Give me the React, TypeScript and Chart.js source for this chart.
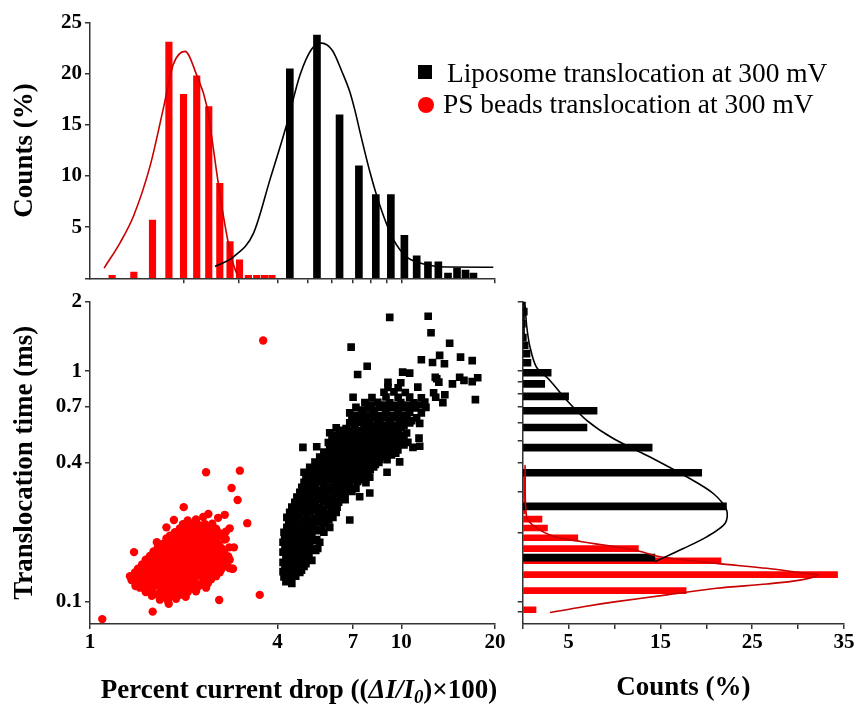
import React, { useEffect, useRef } from 'react';
import { Chart, registerables } from 'chart.js';

Chart.register(...registerables);

const FONT = "'Liberation Serif', 'Times New Roman', serif";
const AXIS = '#333333';
const RED = '#ff0000';
const RED_FIT = '#c80000';

// ---------- top histogram (percent current drop) ----------
const topBinsPS = [1.15, 1.35, 1.55, 1.75, 1.95, 2.15, 2.35, 2.55, 2.75, 2.95, 3.15, 3.35, 3.55, 3.75];
const topCountsPS = [0.3, 0.6, 5.7, 23.1, 18.0, 19.8, 16.8, 9.3, 3.6, 1.8, 0.3, 0.3, 0.3, 0.3];
const topBinsLipo = [4.5, 5.5, 6.5, 7.5, 8.5, 9.5, 10.5, 11.5, 12.5, 13.5, 14.5, 15.5, 16.5, 17.5];
const topCountsLipo = [20.5, 23.8, 16.0, 11.0, 8.2, 8.2, 4.2, 2.2, 1.6, 1.6, 0.5, 1.0, 0.8, 0.5];
const topFitPS = [[1.11, 1.0], [1.25, 3.5], [1.38, 6.1], [1.56, 11.0], [1.72, 16.6], [1.85, 20.9], [2.02, 22.2], [2.2, 19.9], [2.37, 16.9], [2.58, 9.4], [2.7, 5.6], [2.82, 2.6], [2.93, 0.8], [3.0, 0.2]];
const topFitLipo = [[2.52, 1.15], [2.89, 2.1], [3.35, 4.4], [3.79, 9.7], [4.28, 15.0], [4.73, 19.9], [5.15, 22.4], [5.55, 23.0], [6.0, 22.3], [6.45, 20.2], [6.84, 18.2], [7.1, 16.4], [7.37, 14.3], [7.93, 10.4], [8.54, 7.1], [9.43, 3.8], [10.4, 2.1], [11.5, 1.5], [12.7, 1.2], [14.0, 1.1], [19.75, 1.08]];
const topXTicks = [2, 3, 4, 5, 6, 7, 8, 9, 10, 20];

// ---------- side histogram (translocation time) ----------
const sideBinsLipo = [0.15, 0.25, 0.35, 0.45, 0.55, 0.65, 0.75, 0.85, 0.95, 1.05, 1.15, 1.25, 1.35, 1.45, 1.55, 1.65, 1.75, 1.85, 1.95];
const sideCountsLipo = [14.4, 22.2, 19.5, 14.1, 7.0, 8.1, 5.0, 2.4, 3.1, 0.9, 0.8, 0.6, 0.4, 0.2, 0.3, 0.2, 0.5, 0.2, 0.3];
const sideBinsPS = [0.095, 0.115, 0.135, 0.155, 0.175, 0.195, 0.215, 0.235, 0.255, 0.275, 0.295, 0.315, 0.335, 0.355, 0.375];
const sideCountsPS = [1.45, 17.8, 34.3, 21.6, 12.6, 6.0, 2.7, 2.1, 0.3, 0.3, 0.3, 0.3, 0.3, 0.3, 0.6];
const sideFitLipo = [[0.25, 1.95], [0.45, 1.55], [0.8, 1.27], [1.5, 1.04], [2.97, 0.911], [4.8, 0.747], [6.97, 0.612], [9.87, 0.51], [13.87, 0.424], [17.86, 0.348], [20.76, 0.2945], [22.22, 0.249], [22.04, 0.2185], [20.04, 0.191], [17.5, 0.17], [14.4, 0.149]];
const sideFitPS = [[0.25, 0.391], [0.43, 0.233], [1.34, 0.211], [3.52, 0.191], [6.43, 0.182], [12.2, 0.1675], [14.96, 0.1566], [21.1, 0.1466], [26.6, 0.1395], [30.2, 0.1335], [32.2, 0.1305], [30.2, 0.124], [26.6, 0.1193], [21.1, 0.1143], [15.7, 0.107], [10.2, 0.1], [6.6, 0.0951], [2.97, 0.0897]];
const sideXLabels = [5, 15, 25, 35];
const sideYTicks = [0.09, 0.1, 0.2, 0.3, 0.4, 0.5, 0.6, 0.7, 0.8, 0.9, 1, 2];

// ---------- scatter ----------
const scatterXTicks = [1, 4, 7, 10, 20];
const scatterYTicks = [0.1, 0.4, 0.7, 1, 2];

const liposomePoints = [
  [4.26, 0.122], [4.45, 0.120],
  [4.20, 0.128], [4.38, 0.126], [4.58, 0.129],
  [4.17, 0.135], [4.35, 0.133], [4.52, 0.136], [4.72, 0.134],
  [4.30, 0.138], [4.50, 0.139], [4.78, 0.137],
  [4.23, 0.141], [4.42, 0.143], [4.62, 0.140], [4.87, 0.142],
  [4.17, 0.148], [4.32, 0.150], [4.48, 0.147], [4.68, 0.149], [4.94, 0.146], [5.16, 0.151],
  [4.36, 0.152], [4.55, 0.153], [4.85, 0.152], [5.00, 0.154],
  [4.26, 0.156], [4.42, 0.154], [4.58, 0.158], [4.79, 0.155], [5.05, 0.157],
  [4.17, 0.164], [4.35, 0.166], [4.52, 0.163], [4.72, 0.165], [4.94, 0.162], [5.31, 0.167],
  [4.28, 0.168], [4.47, 0.169], [4.67, 0.168], [4.88, 0.167], [5.20, 0.169],
  [4.23, 0.172], [4.42, 0.170], [4.62, 0.174], [4.83, 0.171], [5.08, 0.173], [5.39, 0.170],
  [4.17, 0.181], [4.32, 0.183], [4.52, 0.180], [4.72, 0.182], [4.98, 0.179], [5.24, 0.184], [5.47, 0.181],
  [4.22, 0.186], [4.40, 0.187], [4.60, 0.186], [4.85, 0.185], [5.10, 0.187], [5.35, 0.186],
  [4.26, 0.191], [4.45, 0.189], [4.65, 0.193], [4.91, 0.190], [5.16, 0.192],
  [4.20, 0.200], [4.38, 0.202], [4.58, 0.198], [4.83, 0.201], [5.08, 0.199], [5.39, 0.203], [5.64, 0.200],
  [4.30, 0.205], [4.48, 0.206], [4.70, 0.204], [4.95, 0.205], [5.25, 0.206], [5.50, 0.204],
  [4.29, 0.210], [4.52, 0.212], [4.72, 0.208], [4.98, 0.211], [5.24, 0.209], [5.56, 0.213], [5.89, 0.210],
  [4.35, 0.221], [4.58, 0.219], [4.83, 0.223], [5.08, 0.220], [5.39, 0.222], [5.72, 0.218], [6.83, 0.226],
  [4.45, 0.226], [4.70, 0.227], [4.95, 0.226], [5.22, 0.225], [5.50, 0.227], [5.85, 0.226],
  [4.29, 0.232], [4.48, 0.234], [4.72, 0.231], [4.98, 0.233], [5.28, 0.230], [5.60, 0.235], [6.03, 0.232],
  [4.38, 0.244], [4.62, 0.242], [4.87, 0.246], [5.12, 0.243], [5.43, 0.245], [5.78, 0.241], [6.18, 0.244],
  [4.52, 0.250], [4.76, 0.251], [5.00, 0.249], [5.30, 0.250], [5.62, 0.251], [5.98, 0.249],
  [4.45, 0.257], [4.68, 0.259], [4.94, 0.255], [5.20, 0.258], [5.47, 0.256], [5.83, 0.260], [6.22, 0.257],
  [4.55, 0.270], [4.79, 0.268], [5.05, 0.272], [5.31, 0.269], [5.64, 0.271], [5.94, 0.267], [6.29, 0.270],
  [4.70, 0.277], [4.95, 0.278], [5.22, 0.276], [5.50, 0.277], [5.82, 0.278], [6.15, 0.276], [6.60, 0.277],
  [4.62, 0.284], [4.87, 0.286], [5.12, 0.282], [5.39, 0.285], [5.72, 0.283], [6.08, 0.287], [6.45, 0.284], [7.35, 0.285],
  [4.72, 0.298], [4.98, 0.296], [5.24, 0.300], [5.52, 0.297], [5.83, 0.299], [6.22, 0.295], [6.60, 0.298], [6.94, 0.301], [7.92, 0.296],
  [4.85, 0.305], [5.12, 0.306], [5.42, 0.304], [5.75, 0.305], [6.10, 0.306], [6.48, 0.304], [6.90, 0.305],
  [4.79, 0.313], [5.05, 0.315], [5.31, 0.311], [5.64, 0.314], [5.99, 0.312], [6.34, 0.316], [6.75, 0.313], [7.15, 0.310],
  [4.87, 0.329], [5.12, 0.327], [5.39, 0.331], [5.72, 0.328], [6.08, 0.330], [6.45, 0.326], [6.83, 0.329], [7.24, 0.332], [7.70, 0.328],
  [5.00, 0.337], [5.28, 0.338], [5.60, 0.336], [5.95, 0.337], [6.30, 0.338], [6.70, 0.336], [7.10, 0.337], [7.55, 0.338],
  [4.94, 0.346], [5.20, 0.348], [5.47, 0.344], [5.83, 0.347], [6.18, 0.345], [6.55, 0.349], [6.94, 0.346], [7.41, 0.343], [7.92, 0.347],
  [5.05, 0.355], [5.32, 0.356], [5.65, 0.354], [6.00, 0.355], [6.36, 0.356], [6.75, 0.354], [7.15, 0.355], [7.60, 0.356],
  [4.87, 0.364], [5.16, 0.362], [5.47, 0.366], [5.83, 0.363], [6.18, 0.365], [6.55, 0.361], [6.94, 0.364], [7.35, 0.367], [7.80, 0.363], [9.00, 0.364],
  [5.25, 0.374], [5.58, 0.375], [5.95, 0.373], [6.30, 0.374], [6.66, 0.375], [7.05, 0.373], [7.50, 0.374], [7.95, 0.375],
  [5.08, 0.383], [5.39, 0.385], [5.72, 0.381], [6.08, 0.384], [6.45, 0.382], [6.83, 0.386], [7.24, 0.383], [7.70, 0.380], [8.15, 0.384],
  [5.45, 0.393], [5.80, 0.394], [6.15, 0.392], [6.50, 0.393], [6.90, 0.394], [7.30, 0.392], [7.75, 0.393], [8.25, 0.394],
  [5.28, 0.403], [5.60, 0.401], [5.94, 0.405], [6.29, 0.402], [6.70, 0.404], [7.10, 0.400], [7.53, 0.403], [7.98, 0.406], [8.47, 0.402], [9.88, 0.404],
  [5.60, 0.414], [5.95, 0.415], [6.35, 0.413], [6.72, 0.414], [7.12, 0.415], [7.55, 0.413], [8.00, 0.414], [8.50, 0.415], [9.00, 0.413],
  [5.47, 0.424], [5.83, 0.426], [6.18, 0.422], [6.55, 0.425], [6.94, 0.423], [7.35, 0.427], [7.80, 0.424], [8.28, 0.421], [8.80, 0.425],
  [5.80, 0.434], [6.15, 0.435], [6.55, 0.433], [6.95, 0.434], [7.35, 0.435], [7.80, 0.433], [8.30, 0.434], [8.80, 0.435], [9.30, 0.433],
  [5.64, 0.445], [5.99, 0.443], [6.34, 0.447], [6.75, 0.444], [7.15, 0.446], [7.59, 0.442], [8.05, 0.445], [8.53, 0.448], [9.06, 0.444], [9.60, 0.441],
  [6.00, 0.456], [6.45, 0.457], [6.85, 0.455], [7.25, 0.456], [7.70, 0.457], [8.15, 0.455], [8.65, 0.456], [9.20, 0.457], [9.75, 0.455],
  [4.83, 0.467], [5.35, 0.470], [5.89, 0.466], [6.24, 0.469], [6.65, 0.465], [7.05, 0.468], [7.47, 0.471], [7.92, 0.466], [8.40, 0.469], [8.93, 0.464], [9.47, 0.468], [10.9, 0.467], [11.46, 0.472],
  [6.00, 0.478], [6.38, 0.479], [6.75, 0.477], [7.15, 0.478], [7.60, 0.479], [8.05, 0.477], [8.55, 0.478], [9.05, 0.479], [9.60, 0.477], [10.2, 0.478],
  [5.83, 0.490], [6.18, 0.493], [6.55, 0.488], [6.94, 0.491], [7.35, 0.489], [7.80, 0.494], [8.28, 0.490], [8.80, 0.487], [9.33, 0.492], [9.88, 0.489], [10.5, 0.491],
  [6.15, 0.502], [6.55, 0.503], [6.98, 0.501], [7.40, 0.502], [7.85, 0.503], [8.35, 0.501], [8.85, 0.502], [9.40, 0.503], [9.95, 0.501],
  [5.99, 0.515], [6.34, 0.512], [6.75, 0.517], [7.15, 0.514], [7.59, 0.516], [8.05, 0.511], [8.53, 0.515], [9.06, 0.518], [9.60, 0.513], [10.2, 0.516], [11.4, 0.512],
  [6.10, 0.527], [6.55, 0.528], [7.00, 0.526], [7.45, 0.527], [7.92, 0.528], [8.40, 0.526], [8.92, 0.527], [9.45, 0.528], [10.1, 0.526],
  [5.89, 0.540], [6.34, 0.543], [6.83, 0.538], [7.24, 0.541], [7.70, 0.539], [8.15, 0.544], [8.66, 0.540], [9.18, 0.537], [9.77, 0.542], [10.4, 0.539],
  [6.45, 0.553], [6.90, 0.554], [7.35, 0.552], [7.85, 0.553], [8.40, 0.554], [8.95, 0.552], [9.60, 0.553],
  [6.18, 0.567], [6.65, 0.564], [7.10, 0.569], [7.59, 0.566], [8.11, 0.568], [8.66, 0.563], [9.26, 0.567], [9.96, 0.570],
  [7.10, 0.581], [7.65, 0.582], [8.25, 0.580], [8.85, 0.581], [9.50, 0.582], [10.2, 0.580],
  [6.83, 0.596], [7.35, 0.599], [7.92, 0.594], [8.53, 0.597], [9.18, 0.595], [9.88, 0.600], [10.64, 0.596], [11.46, 0.593],
  [7.20, 0.611], [7.75, 0.612], [8.40, 0.610], [9.20, 0.611], [10.0, 0.612], [10.8, 0.610],
  [6.94, 0.627], [7.47, 0.624], [8.05, 0.629], [8.80, 0.626], [9.60, 0.628], [10.43, 0.623], [11.2, 0.627],
  [7.20, 0.643], [7.80, 0.644], [8.55, 0.642], [9.35, 0.643], [10.2, 0.644],
  [6.83, 0.659], [7.47, 0.662], [8.15, 0.657], [8.93, 0.660], [9.77, 0.658], [10.64, 0.663], [11.6, 0.659],
  [7.50, 0.677], [8.20, 0.678], [8.90, 0.676], [9.75, 0.677], [10.6, 0.678],
  [7.15, 0.696], [7.80, 0.693], [8.53, 0.698], [9.33, 0.695], [10.2, 0.697], [11.1, 0.692], [12.0, 0.696],
  [8.00, 0.712], [8.80, 0.713], [9.60, 0.711], [10.5, 0.712], [11.5, 0.713],
  [7.64, 0.730], [8.40, 0.733], [9.18, 0.728], [9.96, 0.731], [10.97, 0.729], [11.9, 0.734], [13.6, 0.730],
  [7.00, 0.770], [8.05, 0.767], [8.93, 0.772], [9.77, 0.769], [10.64, 0.771], [11.6, 0.766], [12.9, 0.770], [17.3, 0.752],
  [8.80, 0.810], [9.47, 0.813], [10.3, 0.808], [12.7, 0.806], [13.8, 0.790],
  [9.06, 0.850], [9.77, 0.847], [11.3, 0.852],
  [9.06, 0.894], [9.96, 0.890], [13.0, 0.927], [14.6, 0.880], [16.9, 0.900],
  [10.1, 0.990], [10.64, 0.980], [12.86, 0.940], [15.4, 0.940], [15.9, 0.911], [17.6, 0.936],
  [7.24, 0.967], [13.2, 0.896],
  [12.6, 1.09], [13.76, 1.076], [16.9, 1.11],
  [11.6, 1.12], [15.5, 1.15], [13.28, 1.17],
  [7.77, 1.05], [6.9, 1.27], [14.3, 1.32], [12.46, 1.466], [9.18, 1.71], [12.2, 1.73],
];

const psBeadPoints = [
  [1.677, 0.102], [1.78, 0.101], [1.89, 0.103],
  [1.58, 0.106], [1.65, 0.107], [1.74, 0.105], [1.83, 0.106], [1.945, 0.107], [2.03, 0.105],
  [1.51, 0.110], [1.58, 0.111], [1.67, 0.109], [1.76, 0.110], [1.85, 0.111], [1.945, 0.109], [2.06, 0.110], [2.19, 0.111],
  [1.447, 0.115], [1.52, 0.114], [1.60, 0.116], [1.69, 0.115], [1.78, 0.114], [1.875, 0.116], [1.98, 0.115], [2.094, 0.114], [2.22, 0.116], [2.36, 0.115],
  [1.405, 0.119], [1.48, 0.120], [1.558, 0.118], [1.64, 0.119], [1.73, 0.120], [1.82, 0.118], [1.92, 0.119], [2.02, 0.121], [2.125, 0.119], [2.254, 0.118], [2.39, 0.120],
  [1.364, 0.124], [1.436, 0.123], [1.51, 0.125], [1.59, 0.124], [1.677, 0.123], [1.77, 0.125], [1.86, 0.124], [1.96, 0.123], [2.06, 0.125], [2.17, 0.124], [2.31, 0.123], [2.45, 0.125],
  [1.344, 0.129], [1.415, 0.130], [1.49, 0.128], [1.57, 0.129], [1.65, 0.130], [1.74, 0.128], [1.83, 0.129], [1.93, 0.130], [2.03, 0.128], [2.14, 0.129], [2.254, 0.130], [2.39, 0.128], [2.54, 0.129],
  [1.395, 0.134], [1.47, 0.135], [1.55, 0.133], [1.63, 0.134], [1.715, 0.135], [1.806, 0.133], [1.90, 0.134], [2.00, 0.135], [2.11, 0.133], [2.22, 0.134], [2.34, 0.135], [2.47, 0.133], [2.613, 0.134],
  [1.426, 0.139], [1.50, 0.140], [1.58, 0.138], [1.67, 0.139], [1.76, 0.140], [1.85, 0.138], [1.945, 0.139], [2.05, 0.140], [2.16, 0.138], [2.27, 0.139], [2.39, 0.140], [2.52, 0.138], [2.65, 0.139], [2.80, 0.140],
  [1.47, 0.145], [1.55, 0.146], [1.63, 0.144], [1.715, 0.145], [1.806, 0.146], [1.90, 0.144], [2.00, 0.145], [2.11, 0.146], [2.22, 0.144], [2.34, 0.145], [2.47, 0.146], [2.59, 0.144], [2.73, 0.145], [2.88, 0.139],
  [1.51, 0.152], [1.59, 0.151], [1.677, 0.153], [1.77, 0.152], [1.86, 0.151], [1.96, 0.153], [2.06, 0.152], [2.17, 0.151], [2.29, 0.153], [2.41, 0.152], [2.54, 0.151], [2.68, 0.153], [2.81, 0.152],
  [1.558, 0.158], [1.64, 0.159], [1.73, 0.157], [1.82, 0.158], [1.92, 0.159], [2.02, 0.157], [2.125, 0.158], [2.24, 0.159], [2.36, 0.157], [2.49, 0.158], [2.613, 0.159], [2.78, 0.157],
  [1.385, 0.164], [1.60, 0.165], [1.69, 0.163], [1.78, 0.164], [1.875, 0.165], [1.98, 0.163], [2.08, 0.164], [2.19, 0.165], [2.31, 0.163], [2.43, 0.164], [2.56, 0.165], [2.70, 0.163], [2.90, 0.172],
  [1.65, 0.171], [1.74, 0.172], [1.83, 0.170], [1.93, 0.171], [2.03, 0.172], [2.14, 0.170], [2.254, 0.171], [2.38, 0.172], [2.50, 0.170], [2.64, 0.171], [2.80, 0.172],
  [1.64, 0.181], [1.715, 0.178], [1.806, 0.179], [1.90, 0.177], [2.00, 0.178], [2.11, 0.179], [2.22, 0.177], [2.34, 0.178], [2.47, 0.179], [2.59, 0.177], [2.73, 0.187],
  [1.76, 0.188], [1.86, 0.185], [1.96, 0.186], [2.06, 0.184], [2.17, 0.185], [2.29, 0.186], [2.41, 0.184], [2.54, 0.185], [2.70, 0.186],
  [1.806, 0.193], [1.92, 0.194], [2.02, 0.192], [2.125, 0.193], [2.24, 0.194], [2.36, 0.192], [2.49, 0.193], [2.613, 0.194],
  [1.875, 0.200], [1.99, 0.201], [2.094, 0.199], [2.20, 0.200], [2.32, 0.201], [2.45, 0.199], [2.58, 0.200], [2.73, 0.201],
  [1.76, 0.210], [1.945, 0.208], [2.05, 0.209], [2.16, 0.207], [2.27, 0.208], [2.39, 0.209], [2.54, 0.207], [2.81, 0.208],
  [1.99, 0.217], [2.094, 0.218], [2.22, 0.216], [2.34, 0.217], [2.47, 0.218],
  [1.86, 0.226], [2.06, 0.225], [2.19, 0.227], [3.20, 0.219],
  [2.31, 0.233], [2.40, 0.240], [2.58, 0.231], [2.71, 0.238],
  [2.00, 0.257], [2.36, 0.364], [3.03, 0.370], [2.85, 0.311], [2.98, 0.276],
  [1.40, 0.117], [1.36, 0.124], [1.79, 0.098], [1.59, 0.0905], [2.60, 0.1016], [3.51, 0.107], [1.095, 0.084],
  [2.86, 0.139], [3.60, 1.358],
];

const axisFont = { family: FONT, size: 21, weight: 'bold' as const };
const titleFont = { family: FONT, size: 27, weight: 'bold' as const };
const baseGrid = { drawOnChartArea: false, drawTicks: true, tickLength: 5, color: AXIS, lineWidth: 1.5, offset: false };
const baseBorder = { display: true, color: AXIS, width: 1.5 };
const common = {
  responsive: false,
  maintainAspectRatio: false,
  animation: false as const,
  devicePixelRatio: 1,
  events: [] as any[],
  plugins: { legend: { display: false }, tooltip: { enabled: false }, title: { display: false } },
};

const toXY = (pts: number[][]) => pts.map(([x, y]) => ({ x, y }));

function topConfig(): any {
  return {
    type: 'bar',
    data: {
      datasets: [
        { type: 'line', data: toXY(topFitLipo), borderColor: '#000', borderWidth: 1.6, pointRadius: 0, cubicInterpolationMode: 'monotone', fill: false, order: 0, xAxisID: 'x', yAxisID: 'y' },
        { type: 'line', data: toXY(topFitPS), borderColor: RED_FIT, borderWidth: 1.6, pointRadius: 0, cubicInterpolationMode: 'monotone', fill: false, order: 0, xAxisID: 'x', yAxisID: 'y' },
        { type: 'bar', data: topBinsLipo.map((x, i) => ({ x, y: topCountsLipo[i] })), backgroundColor: '#000', barThickness: 7, order: 1, xAxisID: 'x', yAxisID: 'y' },
        { type: 'bar', data: topBinsPS.map((x, i) => ({ x, y: topCountsPS[i] })), backgroundColor: RED, barThickness: 6.5, order: 2, xAxisID: 'x2', yAxisID: 'y' },
      ],
    },
    options: {
      ...common,
      layout: { padding: { left: 0, top: 22.7, right: 362, bottom: 415.7 } },
      scales: {
        x: {
          type: 'logarithmic', min: 1, max: 20, offset: false, position: 'bottom',
          grid: baseGrid, border: baseBorder,
          ticks: { display: false },
          afterBuildTicks: (ax: any) => { ax.ticks = topXTicks.map((v) => ({ value: v })); },
          afterFit: (ax: any) => { ax.height = 10; },
        },
        x2: { type: 'logarithmic', min: 1, max: 20, offset: false, position: 'bottom', display: false, grid: { offset: false } },
        y: {
          type: 'linear', min: 0, max: 25, position: 'left',
          grid: baseGrid, border: baseBorder,
          ticks: { stepSize: 5, autoSkip: false, color: '#000', font: axisFont, padding: 3, callback: (v: number) => (v === 0 ? '' : String(v)) },
          title: { display: true, text: 'Counts (%)', color: '#000', font: titleFont, padding: { top: 9, bottom: 0 } },
          afterFit: (ax: any) => { ax.width = 90; },
        },
      },
    },
  };
}

function scatterConfig(): any {
  return {
    type: 'scatter',
    data: {
      datasets: [
        { label: 'Liposome translocation at 300 mV', data: toXY(liposomePoints), pointStyle: 'rect', pointRadius: 5.4, backgroundColor: '#000', borderWidth: 0 },
        { label: 'PS beads translocation at 300 mV', data: toXY(psBeadPoints), pointStyle: 'circle', pointRadius: 4.2, backgroundColor: RED, borderWidth: 0 },
      ],
    },
    options: {
      ...common,
      layout: { padding: { left: 0, top: 301.7, right: 362, bottom: 0 } },
      scales: {
        x: {
          type: 'logarithmic', min: 1, max: 20, position: 'bottom',
          grid: baseGrid, border: baseBorder,
          ticks: { autoSkip: false, maxRotation: 0, color: '#000', font: axisFont, padding: 1, callback: (v: number) => String(v) },
          afterBuildTicks: (ax: any) => { ax.ticks = scatterXTicks.map((v) => ({ value: v })); },
          afterFit: (ax: any) => { ax.height = 80; },
        },
        y: {
          type: 'logarithmic', min: 0.08, max: 2, position: 'left',
          grid: baseGrid, border: baseBorder,
          ticks: { autoSkip: false, color: '#000', font: axisFont, padding: 3, callback: (v: number) => String(v) },
          afterBuildTicks: (ax: any) => { ax.ticks = scatterYTicks.map((v) => ({ value: v })); },
          title: { display: true, text: 'Translocation time (ms)', color: '#000', font: titleFont, padding: { top: 9, bottom: 0 } },
          afterFit: (ax: any) => { ax.width = 90; },
        },
      },
    },
  };
}

function sideConfig(): any {
  return {
    type: 'bar',
    data: {
      datasets: [
        { type: 'line', data: toXY(sideFitLipo), borderColor: '#000', borderWidth: 1.6, pointRadius: 0, tension: 0.3, fill: false, order: 0, xAxisID: 'x', yAxisID: 'y' },
        { type: 'line', data: toXY(sideFitPS), borderColor: RED_FIT, borderWidth: 1.6, pointRadius: 0, tension: 0.3, fill: false, order: 0, xAxisID: 'x', yAxisID: 'y' },
        { type: 'bar', data: sideBinsLipo.map((y, i) => ({ x: sideCountsLipo[i], y })), backgroundColor: '#000', barThickness: 7, order: 1, xAxisID: 'x', yAxisID: 'y' },
        { type: 'bar', data: sideBinsPS.map((y, i) => ({ x: sideCountsPS[i], y })), backgroundColor: RED, barThickness: 6, order: 2, xAxisID: 'x', yAxisID: 'y2' },
      ],
    },
    options: {
      ...common,
      indexAxis: 'y',
      layout: { padding: { left: 512.7, top: 301.7, right: 13, bottom: 0 } },
      scales: {
        x: {
          type: 'linear', min: 0, max: 35, position: 'bottom',
          grid: baseGrid, border: baseBorder,
          ticks: { stepSize: 5, autoSkip: false, maxRotation: 0, color: '#000', font: axisFont, padding: 1, callback: (v: number) => (sideXLabels.includes(v) ? String(v) : '') },
          title: { display: true, text: 'Counts (%)', color: '#000', font: titleFont, padding: { top: 0, bottom: 0 } },
          afterFit: (ax: any) => { ax.height = 80; },
        },
        y: {
          type: 'logarithmic', min: 0.08, max: 2, position: 'left', offset: false,
          grid: baseGrid, border: baseBorder,
          ticks: { display: false },
          afterBuildTicks: (ax: any) => { ax.ticks = sideYTicks.map((v) => ({ value: v })); },
          afterFit: (ax: any) => { ax.width = 10; },
        },
        y2: { type: 'logarithmic', min: 0.08, max: 2, position: 'left', offset: false, display: false, grid: { offset: false } },
      },
    },
  };
}

const canvasStyle: React.CSSProperties = { position: 'absolute', left: 0, top: 0 };

export default function App() {
  const topRef = useRef<HTMLCanvasElement | null>(null);
  const scatterRef = useRef<HTMLCanvasElement | null>(null);
  const sideRef = useRef<HTMLCanvasElement | null>(null);

  useEffect(() => {
    const charts: Chart[] = [];
    if (topRef.current) charts.push(new Chart(topRef.current, topConfig()));
    if (scatterRef.current) charts.push(new Chart(scatterRef.current, scatterConfig()));
    if (sideRef.current) charts.push(new Chart(sideRef.current, sideConfig()));
    return () => charts.forEach((c) => c.destroy());
  }, []);

  return (
    <div style={{ position: 'absolute', left: 0, top: 0, width: 857, height: 704, background: '#fff', fontFamily: FONT, color: '#000' }}>
      <canvas ref={topRef} width={857} height={704} style={canvasStyle} />
      <canvas ref={scatterRef} width={857} height={704} style={canvasStyle} />
      <canvas ref={sideRef} width={857} height={704} style={canvasStyle} />
      <div style={{ position: 'absolute', left: 418, top: 65, width: 14, height: 14, background: '#000' }} />
      <div style={{ position: 'absolute', left: 447, top: 59.5, fontSize: 27.4, lineHeight: 1, whiteSpace: 'nowrap' }}>Liposome translocation at 300 mV</div>
      <div style={{ position: 'absolute', left: 418, top: 96.5, width: 16, height: 16, borderRadius: '50%', background: RED }} />
      <div style={{ position: 'absolute', left: 443, top: 91, fontSize: 27.4, lineHeight: 1, whiteSpace: 'nowrap' }}>PS beads translocation at 300 mV</div>
      <div style={{ position: 'absolute', left: 4, width: 590, top: 675.5, textAlign: 'center', fontSize: 27, fontWeight: 'bold', lineHeight: 1, whiteSpace: 'nowrap' }}>
        Percent current drop ((<i>ΔI/I<span style={{ fontSize: '0.7em', position: 'relative', top: '0.3em' }}>0</span></i>)×100)
      </div>
    </div>
  );
}
